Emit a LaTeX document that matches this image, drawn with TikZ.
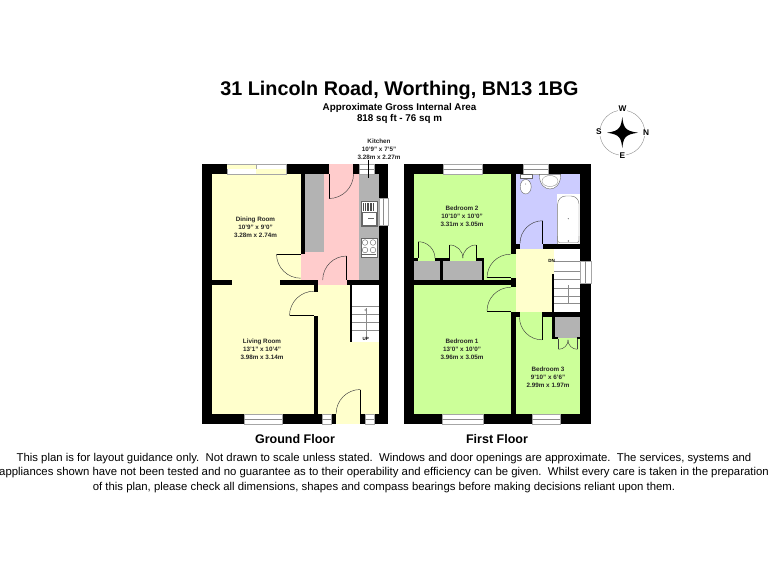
\documentclass[tikz,border=0pt]{standalone}
\usepackage{fontspec}
\setmainfont{Liberation Sans}
\definecolor{yl}{HTML}{FFFFCC}
\definecolor{pk}{HTML}{FFCCCC}
\definecolor{gn}{HTML}{CCFF99}
\definecolor{lc}{HTML}{CCCCFF}
\definecolor{gy}{HTML}{B3B3B3}
\tikzset{
  door/.style={draw=black!75,line width=0.45pt},
  leaf/.style={draw=black,line width=0.8pt},
  win/.style={fill=white,draw=black!35,line width=0.4pt},
  fix/.style={fill=white,draw=black!60,line width=0.4pt},
  tread/.style={draw=black!45,line width=0.4pt},
  room/.style={font=\bfseries\fontsize{6.3}{8}\selectfont,align=center,text=black!85,inner sep=0pt},
  floorname/.style={font=\bfseries\fontsize{12.5}{14}\selectfont,inner sep=0pt},
  compassletter/.style={font=\bfseries\fontsize{8.3}{9}\selectfont,fill=white,inner sep=0.6pt}
}
\begin{document}
\begin{tikzpicture}[x=1pt,y=-1pt]
\useasboundingbox (0,0) rectangle (768,576);
\fill[white] (0,0) rectangle (768,576);

% ---------- Ground floor ----------
\fill[black] (202,164.3) rectangle (388,424);
\fill[yl] (212,174.3) rectangle (300.7,280);
\fill[yl] (232.3,279) rectangle (280,286);
\fill[yl] (212,285) rectangle (314,413.7);
\fill[pk] (305.3,174.3) rectangle (359.3,280);
\fill[pk] (300.7,254) rectangle (306,280);
\fill[pk] (328.5,164.3) rectangle (353,175);
\fill[pk] (318,280) rectangle (346.7,285);
\fill[gy] (305.3,174.3) rectangle (324.3,251.7);
\fill[gy] (359.3,174.3) rectangle (378.7,280);
\fill[yl] (318.3,285) rectangle (378.7,413.7);
\fill[yl] (314,291.7) rectangle (318.5,315.7);
\fill[white] (352.3,285) rectangle (378.7,342);
\fill[black] (349.7,285) rectangle (352.3,342);
\fill[yl] (336,413) rectangle (360.3,424);
% windows
\fill[win] (226.7,164.3) rectangle (256,174.3);
\fill[win] (256,164.3) rectangle (286,174.3);
\fill[yl] (227,164.8) rectangle (255.5,169);
\fill[yl] (256,169) rectangle (285.5,174);
\fill[win] (359.3,164.3) rectangle (374.3,174.3);
\draw[tread] (359.3,169.3) -- (374.3,169.3);
\fill[win] (378.7,197.7) rectangle (388,225);
\draw[tread] (383.3,197.7) -- (383.3,225);
\fill[win] (244.3,413.7) rectangle (282.3,424);
\draw[tread] (244.3,418.8) -- (282.3,418.8);
\fill[win] (322.3,413.7) rectangle (331.3,424);
\draw[tread] (322.3,418.8) -- (331.3,418.8);
\fill[win] (365,413.7) rectangle (374.3,424);
\draw[tread] (365,418.8) -- (374.3,418.8);
% kitchen stair arrow stub
\draw[tread,black] (368.5,160) -- (368.5,178);
% doors
\draw[leaf] (329,174.3) -- (329,198.5);
\draw[door] (329,198.5) arc[start angle=90,end angle=0,radius=24.5];
\draw[leaf] (276.5,254) -- (300.7,254);
\draw[door] (276.5,254) arc[start angle=180,end angle=90,radius=24.2];
\draw[leaf] (346.7,256) -- (346.7,280);
\draw[door] (346.7,256) arc[start angle=270,end angle=180,radius=24];
\draw[leaf] (289.5,315.7) -- (314,315.7);
\draw[door] (289.5,315.7) arc[start angle=180,end angle=270,radius=24.5];
\draw[leaf] (360.3,389.5) -- (360.3,413.7);
\draw[door] (360.3,389.5) arc[start angle=270,end angle=180,radius=24.2];
% sink
\fill[fix] (360.7,201) rectangle (377.3,225.7);
\foreach \i in {0,...,6} {\fill[black!70] ({363.4+\i*1.6},202.8) rectangle ({364.3+\i*1.6},211);}
\draw[black!60,line width=0.4pt] (361.7,212.5) rectangle (376.3,224.7);
\fill[black!60] (368,218) rectangle (374,219);
% hob
\fill[fix] (360.7,237.7) rectangle (377.3,256.7);
\foreach \cx/\cy in {365/242.5,373/242.5,365/250,373/250} {\draw[black!60,line width=0.4pt] (\cx,\cy) circle[radius=2.8];}
\draw[black!60,line width=0.4pt] (361.7,254.5) -- (376,254.5);
% stairs ground
\foreach \y in {306,314,321.7,330} {\draw[tread] (352.3,\y) -- (378.7,\y);}
\draw[tread] (365.7,308) -- (365.7,336.5);
\draw[black!50,line width=0.3pt] (365.7,310) circle[radius=1];
\node[inner sep=0pt,font=\bfseries\fontsize{4.5}{5}\selectfont] (upText) at (365.7,339) {UP};

% ---------- First floor ----------
\fill[black] (404,164.3) rectangle (590.7,424);
\fill[gn] (414,174.3) rectangle (510.7,280.3);
\fill[gn] (414,285) rectangle (510.7,413.7);
\fill[gn] (510,254.3) rectangle (516,277.7);
\fill[gn] (510,286.7) rectangle (516,311.5);
\fill[lc] (515.7,174.3) rectangle (580.3,243.7);
\fill[lc] (520.3,243) rectangle (542.7,249);
\fill[yl] (515.7,248.7) rectangle (554.3,312.3);
\fill[white] (554.3,248.7) rectangle (580.3,312.3);
\fill[black] (552.3,274) rectangle (554.3,312.3);
\fill[gn] (515.7,317.3) rectangle (580.3,413.7);
\fill[gn] (520,312) rectangle (542,318);
\fill[black] (542,312.3) rectangle (555,339.3);
\fill[gn] (542.5,317.3) rectangle (552.3,339.3);
\fill[gn] (552.3,339.3) rectangle (558,340);
% closet 3
\fill[black] (552.3,317.3) rectangle (580.3,339.3);
\fill[gy] (555,317.3) rectangle (580.3,336.7);
\fill[gn] (558.3,336.7) rectangle (577.3,339.5);
\fill[gy] (558.3,336.7) rectangle (577.3,338);
% closets bed 2
\fill[black] (414,258.3) rectangle (418.3,281);
\fill[black] (435,258.3) rectangle (449.5,281);
\fill[black] (476,258.3) rectangle (484.3,281);
\fill[black] (418,274) rectangle (484.3,281);
\fill[gy] (414,261) rectangle (440,280.3);
\fill[gy] (443.3,261) rectangle (481.7,280.3);
% windows
\fill[win] (442.7,164.3) rectangle (481.7,174.3);
\draw[tread] (442.7,169.3) -- (481.7,169.3);
\fill[win] (523.3,164.3) rectangle (548,174.3);
\draw[tread] (523.3,169.3) -- (548,169.3);
\fill[win] (580.3,261) rectangle (590.7,283.3);
\draw[tread] (585.5,261) -- (585.5,283.3);
\fill[win] (442.3,413.7) rectangle (482.7,424);
\draw[tread] (442.3,418.8) -- (482.7,418.8);
\fill[win] (532.3,413.7) rectangle (559.7,424);
\draw[tread] (532.3,418.8) -- (559.7,418.8);
% bathroom fittings
\fill[white] (556.7,194.3) rectangle (580.3,243.7);
\draw[black!55,line width=0.45pt,rounded corners=8pt] (557.7,244) -- (557.7,196) -- (579,196) -- (579,244);
\draw[black!55,line width=0.4pt,rounded corners=2pt] (557.7,236) -- (557.7,242.5) -- (579,242.5) -- (579,236);
\fill[black!60] (568.3,218.7) circle[radius=0.6];
\fill[black!60] (568.3,241) circle[radius=0.8];
\draw[fix] (520,174.3) rectangle (531.7,178);
\draw[fix] (525.7,186.7) ellipse[x radius=5.5,y radius=7.3];
\fill[black!60] (525.7,184) circle[radius=0.5];
\draw[fix] (539.3,174.3) -- (560.7,174.3) .. controls (560.7,185) and (555,189) .. (550,189) .. controls (545,189) and (539.3,185) .. (539.3,174.3) -- cycle;
\draw[black!55,line width=0.3pt] (550,181) ellipse[x radius=8,y radius=5.5];
% stairs first
\foreach \y in {261,270.7,279.3,288,296,303.5} {\draw[tread] (554.3,\y) -- (580.3,\y);}
\draw[tread] (567.7,285) -- (567.7,303);
\node[inner sep=0pt,font=\bfseries\fontsize{4.5}{5}\selectfont] (dnText) at (551.5,261) {DN};
% doors first
\draw[leaf] (542.7,220.7) -- (542.7,243.7);
\draw[door] (542.7,220.7) arc[start angle=270,end angle=180,radius=22.7];
\draw[leaf] (487,277.7) -- (510.7,277.7);
\draw[door] (487,277.7) arc[start angle=180,end angle=270,radius=23.5];
\draw[leaf] (487,311) -- (510.7,311);
\draw[door] (487,311) arc[start angle=180,end angle=270,radius=23.7];
\draw[leaf] (542,317.3) -- (542,340);
\draw[door] (519.5,317.3) arc[start angle=180,end angle=90,radius=22.5];
\draw[leaf] (418.3,241.7) -- (418.3,258.3);
\draw[door] (418.3,241.7) arc[start angle=270,end angle=360,radius=16.7];
\draw[leaf] (449.7,245) -- (449.7,258.3);
\draw[door] (449.7,245) arc[start angle=270,end angle=360,radius=13.2];
\draw[leaf] (476,245) -- (476,258.3);
\draw[door] (476,245) arc[start angle=270,end angle=180,radius=13.2];
\draw[door] (558.7,339) -- (558.7,349.3);
\draw[door] (558.7,349.3) arc[start angle=90,end angle=0,radius=9.4];
\draw[door] (577.3,339) -- (577.3,349.3);
\draw[door] (577.3,349.3) arc[start angle=90,end angle=180,radius=9.4];

% ---------- Compass ----------
\draw[black!45,line width=0.4pt] (622.3,132.7) circle[radius=22.5];
\fill[black] (622.3,117) .. controls (623.5,127) and (624.5,131) .. (638,132.7)
  .. controls (624.5,134.5) and (623.5,138) .. (622.3,148)
  .. controls (621,138) and (620,134.5) .. (607,132.7)
  .. controls (620,131) and (621,127) .. (622.3,117) -- cycle;
\node[compassletter] (cW) at (622.5,108.5) {W};
\node[compassletter] (cE) at (622.3,156) {E};
\node[compassletter] (cS) at (599,132) {S};
\node[compassletter] (cN) at (646,133) {N};

% ---------- Text ----------
\node[inner sep=0pt,font=\bfseries\fontsize{19.8}{22}\selectfont] (title) at (399.5,90) {31 Lincoln Road, Worthing, BN13 1BG};
\node[inner sep=0pt,align=center,font=\bfseries\fontsize{9.8}{11.5}\selectfont] (area) at (399.5,113.5) {Approximate Gross Internal Area\\818 sq ft - 76 sq m};
\node[room] (kitchen) at (379,149) {Kitchen\\10'9" x 7'5"\\3.28m x 2.27m};
\node[room] (dining) at (255.5,227.5) {Dining Room\\10'9" x 9'0"\\3.28m x 2.74m};
\node[room] (living) at (262,349.7) {Living Room\\13'1" x 10'4"\\3.98m x 3.14m};
\node[room] (bed2) at (462,216) {Bedroom 2\\10'10" x 10'0"\\3.31m x 3.05m};
\node[room] (bed1) at (462,349.7) {Bedroom 1\\13'0" x 10'0"\\3.96m x 3.05m};
\node[room] (bed3) at (548,377) {Bedroom 3\\9'10" x 6'6"\\2.99m x 1.97m};
\node[floorname] (gf) at (295,439.5) {Ground Floor};
\node[floorname] (ff) at (497,439.5) {First Floor};
\node[inner sep=0pt,align=center,font=\fontsize{11.35}{14.7}\selectfont] (note) at (384,473) {This plan is for layout guidance only.\ \ Not drawn to scale unless stated.\ \ Windows and door openings are approximate.\ \ The services, systems and\\appliances shown have not been tested and no guarantee as to their operability and efficiency can be given.\ \ Whilst every care is taken in the preparation\\of this plan, please check all dimensions, shapes and compass bearings before making decisions reliant upon them.};
\end{tikzpicture}
\end{document}
